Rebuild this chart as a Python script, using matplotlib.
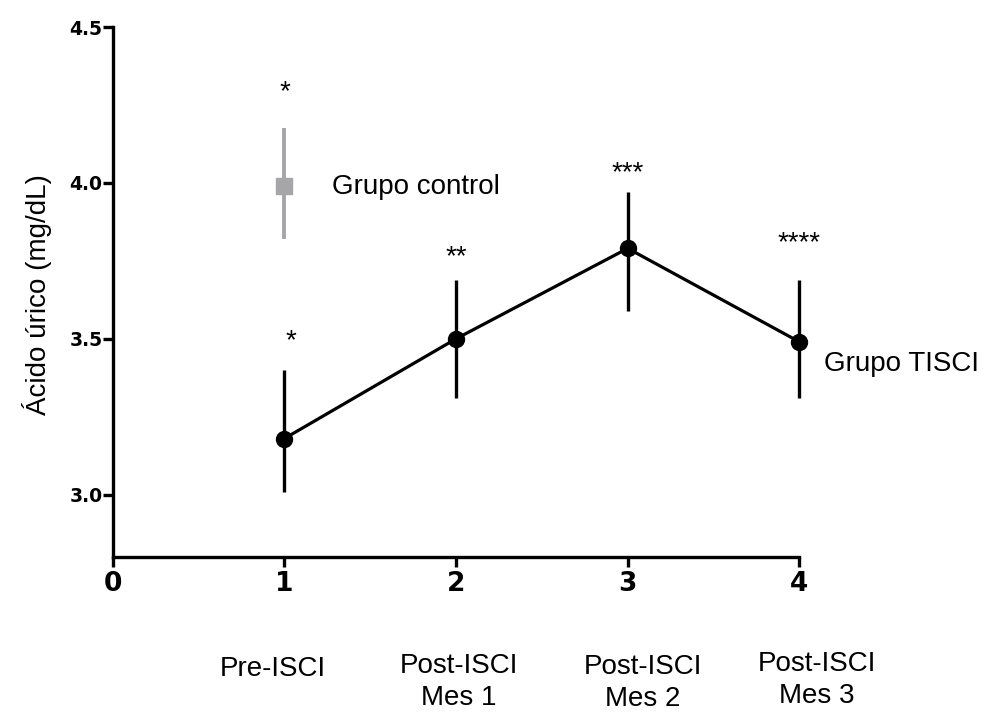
import matplotlib
matplotlib.use("Agg")
import matplotlib.pyplot as plt

# Uric acid (mg/dL), mean with error range, TISCI group over four time points
x_tisci = [1, 2, 3, 4]
y_tisci = [3.18, 3.50, 3.79, 3.49]
lo_tisci = [3.01, 3.31, 3.59, 3.31]
hi_tisci = [3.40, 3.69, 3.97, 3.69]

# Control group (single time point)
x_ctrl = [1]
y_ctrl = [3.99]
lo_ctrl = [3.82]
hi_ctrl = [4.175]

# Significance marks
sig_x = [1.0, 1.04, 2.0, 3.0, 4.0]
sig_y = [4.32, 3.52, 3.79, 4.06, 3.835]
sig_text = ["*", "*", "**", "***", "****"]

x_ticks = [0, 1, 2, 3, 4]
y_ticks = [3.0, 3.5, 4.0, 4.5]
phase_labels = ["Pre-ISCI", "Post-ISCI\nMes 1", "Post-ISCI\nMes 2", "Post-ISCI\nMes 3"]

TEXT_FONT = ["Liberation Sans", "DejaVu Sans"]
TICK_FONT = "DejaVu Sans"
GREY = "#a6a6a9"

fig = plt.figure(figsize=(9.88, 7.13), dpi=100)
ax = fig.add_axes([0.1141, 0.2188, 0.8091 - 0.1141, 0.9621 - 0.2188])

# control group
err_ctrl = [[m - l for m, l in zip(y_ctrl, lo_ctrl)], [h - m for m, h in zip(y_ctrl, hi_ctrl)]]
ctrl = ax.errorbar(x_ctrl, y_ctrl, yerr=err_ctrl, fmt="s", color=GREY, ecolor=GREY,
                   elinewidth=2.8, markersize=11, capsize=0, zorder=3)

# TISCI group
err_t = [[m - l for m, l in zip(y_tisci, lo_tisci)], [h - m for m, h in zip(y_tisci, hi_tisci)]]
tisci = ax.errorbar(x_tisci, y_tisci, yerr=err_t, fmt="o-", color="black", ecolor="black",
                    linewidth=2.3, elinewidth=2.4, markersize=11.5, capsize=0, zorder=4)

for container in (ctrl, tisci):
    for artist in container.get_children():
        artist.set_clip_on(False)

# significance asterisks (glyph centre placed at the given height)
for xs, ys, s in zip(sig_x, sig_y, sig_text):
    ax.annotate(s, (xs, ys), xytext=(0, -11.5), textcoords="offset points",
                ha="center", va="baseline", fontsize=20, family=TEXT_FONT)

ax.text(1.278, 3.963, "Grupo control", fontsize=20, family=TEXT_FONT, va="baseline", ha="left")
ax.text(4.145, 3.396, "Grupo TISCI", fontsize=20, family=TEXT_FONT, va="baseline", ha="left",
        clip_on=False)

ax.set_xlim(0, 4)
ax.set_ylim(2.8, 4.5)
ax.set_xticks(x_ticks)
ax.set_yticks(y_ticks)
ax.set_xticklabels([str(v) for v in x_ticks], fontsize=19, fontweight="bold", family=TICK_FONT)
ax.set_yticklabels([f"{v:.1f}" for v in y_ticks], fontsize=13.5, fontweight="bold", family=TICK_FONT)

for side in ("top", "right"):
    ax.spines[side].set_visible(False)
for side in ("left", "bottom"):
    ax.spines[side].set_linewidth(2.4)
ax.tick_params(axis="x", length=7, width=2.4, pad=3)
ax.tick_params(axis="y", length=7, width=2.4, pad=0.5)

fig.text(37 / 988, 1 - 295 / 713, "Ácido úrico (mg/dL)", rotation=90, fontsize=20,
         family=TEXT_FONT, ha="center", va="center")

# phase names under the axis (pixel position of the last line's baseline)
label_px = [(273, 676), (459, 705), (643, 706), (817, 703)]
for (px, py), lab in zip(label_px, phase_labels):
    fig.text(px / 988, 1 - py / 713, lab, fontsize=20, family=TEXT_FONT,
             ha="center", va="baseline", multialignment="center", linespacing=1.3)

fig.savefig("out.png", dpi=100)
